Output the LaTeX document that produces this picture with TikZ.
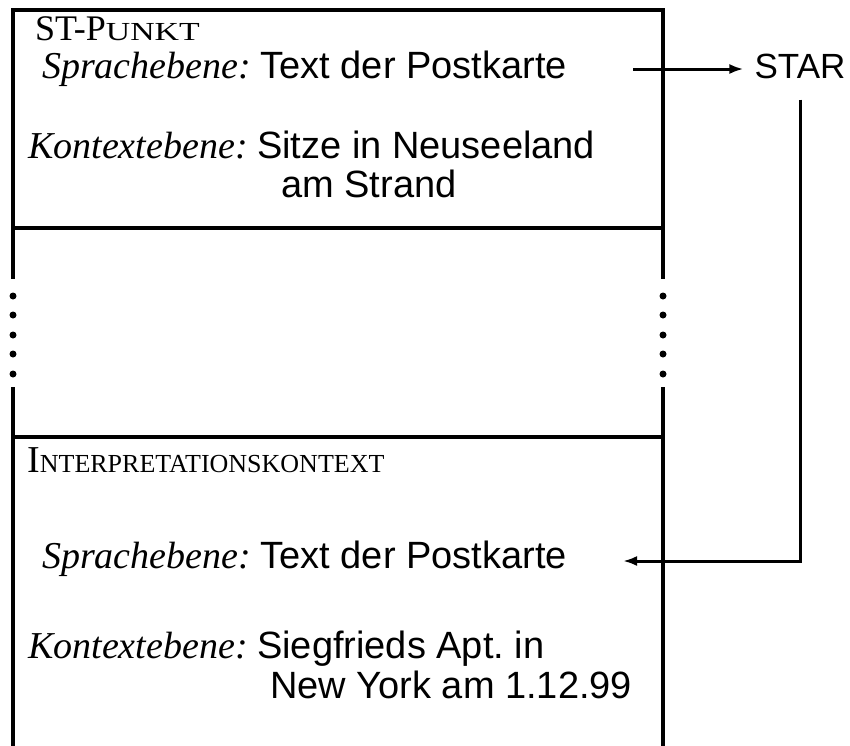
\documentclass[tikz,border=0pt]{standalone}
\usepackage{fontspec}
\setmainfont{Liberation Serif}
\setsansfont{Liberation Sans}
\newfontfamily\breitfont[FakeStretch=1.3]{Liberation Serif}
\usetikzlibrary{positioning,arrows.meta}

% Kapitaelchen von Hand: grosser Anfang, kleiner Rest
\newcommand{\kapit}[3][\rmfamily]{#2{#1\fontsize{26}{30}\selectfont #3}}

\begin{document}
\frenchspacing
\begin{tikzpicture}[
  x=1pt, y=-1pt,
  txt/.style={anchor=base west, inner sep=0pt, font=\fontsize{38}{46}\selectfont},
  rand/.style={line width=3.5pt, line cap=rect},
  arr/.style={-{Latex[length=14pt,width=10pt]}, line width=3pt}
]
\useasboundingbox (0,0) rectangle (850,745);

% obere Box: ST-Punkt
\draw[rand] (13,277) -- (13,10) -- (663,10) -- (663,277);
\draw[rand] (13,228) -- (663,228);
\node[txt, font=\fontsize{36}{42}\selectfont] (stp) at (35,40) {\kapit[\breitfont]{ST-P}{UNKT}};
\node[txt] (spr1) at (42,78) {\textit{Sprachebene:} \textsf{Text der Postkarte}};
\node[txt] (kon1) at (28,158) {\textit{Kontextebene:} \textsf{Sitze in Neuseeland}};
\node[txt] (ort1) at (281,197) {\textsf{am Strand}};

% Auslassung
\foreach \y in {296,315,335,354,374} {
  \fill (13,\y) circle (3.5);
  \fill (663,\y) circle (3.5);
}

% untere Box: Interpretationskontext
\draw[rand] (13,745) -- (13,389);
\draw[rand] (663,745) -- (663,389);
\draw[rand] (13,437) -- (663,437);
\node[txt] (ipk) at (27,472) {\kapit{I}{NTERPRETATIONSKONTEXT}};
\node[txt] (spr2) at (42,568) {\textit{Sprachebene:} \textsf{Text der Postkarte}};
\node[txt] (kon2) at (28,658) {\textit{Kontextebene:} \textsf{Siegfrieds Apt. in}};
\node[txt] (ort2) at (270,698) {\textsf{New York am 1.12.99}};

% STAR und Pfeile
\node[txt, anchor=base, font=\fontsize{35}{40}\selectfont] (star) at (800,78) {\textsf{STAR}};
\coordinate (aus) at (633,69);
\coordinate (ein) at (623,561);
\draw[arr, shorten >=11pt] (aus) -- (aus -| star.west);
\draw[arr] (star.south) ++(0,21) |- (ein);
\end{tikzpicture}
\end{document}
